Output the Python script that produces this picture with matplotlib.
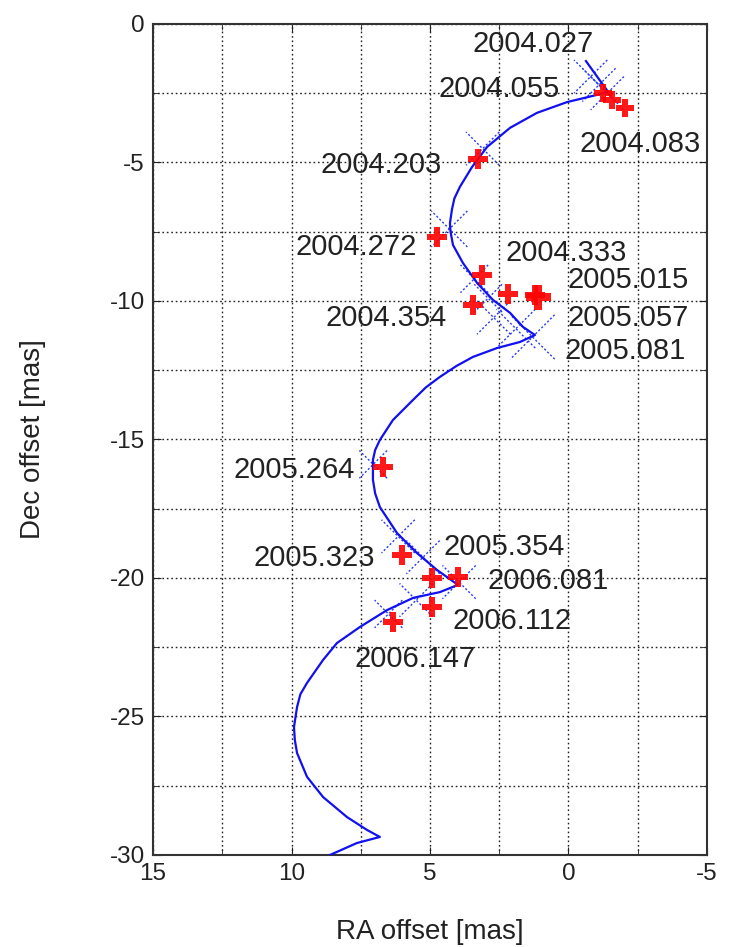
import matplotlib
matplotlib.use("Agg")
import matplotlib.pyplot as plt
from matplotlib.ticker import MultipleLocator

plt.rcParams['font.family'] = ['Liberation Sans', 'DejaVu Sans']
plt.rcParams['axes.unicode_minus'] = False

# Observed epochs and measured positions (RA offset, Dec offset) [mas]
epochs = ["2004.027", "2004.055", "2004.083", "2004.203", "2004.272", "2004.333",
          "2004.354", "2005.015", "2005.057", "2005.081", "2005.264", "2005.323",
          "2005.354", "2006.081", "2006.112", "2006.147"]
obs_ra = [-1.25, -1.57, -2.04, 3.25, 4.75, 3.12, 3.45, 2.18, 1.10, 1.20,
          6.70, 6.01, 4.93, 3.99, 4.93, 6.34]
obs_dec = [-2.49, -2.74, -3.03, -4.88, -7.69, -9.06, -10.14, -9.75, -9.86, -9.80,
           -16.0, -19.17, -20.0, -19.96, -21.05, -21.59]
obs_size = [13, 13, 13, 14, 14, 14, 14, 15, 18, 15, 14, 14, 15, 14, 15, 14]

# Model positions at each epoch with error half-size [mas]
mod_ra = [-0.8, -1.1, -1.4, 3.1, 4.3, 3.4, 2.9, 2.7, 1.9, 1.3,
          7.05, 6.15, 5.25, 3.95, 5.5, 6.5]
mod_dec = [-1.9, -2.2, -2.5, -4.5, -7.4, -9.2, -9.9, -10.6, -11.0, -11.3,
           -15.9, -18.5, -19.25, -20.15, -20.8, -21.3]
mod_err = [0.6, 0.6, 0.6, 0.6, 0.65, 0.5, 0.5, 0.6, 0.7, 0.8,
           0.5, 0.6, 0.6, 0.6, 0.6, 0.5]

# Label anchor positions (left edge, vertical centre) [mas]
lab_ra = [3.48, 4.71, -0.38, 8.97, 9.87, 2.29, 8.79, 0.05, 0.05, 0.13,
          12.11, 11.39, 4.53, 2.94, 4.17, 7.71]
lab_dec = [-0.72, -2.35, -4.33, -5.09, -8.05, -8.27, -10.61, -9.25, -10.61, -11.8,
           -16.1, -19.28, -18.88, -20.1, -21.55, -22.92]

# Fitted parallax + proper-motion track [mas]
curve_ra = [-0.63, -1.43, -1.03, 0.05, 1.14, 2.11, 2.94, 3.48, 3.92, 4.12, 4.21, 4.28, 4.26,
            4.17, 3.81, 3.30, 2.73, 2.11, 1.64, 1.21, 1.75, 2.58, 3.45, 4.05, 4.64, 5.15,
            5.61, 6.34, 6.81, 6.98, 7.06, 7.06, 6.98, 6.81, 6.19, 5.47, 4.75, 3.99, 4.64,
            5.61, 6.55, 7.53, 8.36, 8.86, 9.44, 9.68, 9.80, 9.91, 9.88, 9.80, 9.44, 8.86,
            8.00, 7.27, 6.81, 7.64, 8.61, 9.15]
curve_dec = [-1.34, -2.45, -2.56, -2.82, -3.21, -3.75, -4.44, -5.16, -5.88, -6.30, -6.71,
             -7.20, -7.50, -7.98, -8.63, -9.35, -9.96, -10.43, -10.94, -11.23, -11.48,
             -11.70, -12.02, -12.35, -12.74, -13.12, -13.57, -14.30, -15.02, -15.38,
             -15.74, -16.46, -16.95, -17.44, -18.38, -19.10, -19.71, -20.25, -20.51,
             -20.72, -21.16, -21.77, -22.35, -22.96, -23.79, -24.20, -24.66, -25.38,
             -25.85, -26.32, -27.18, -27.91, -28.63, -29.10, -29.35, -29.57, -30.0,
             -30.25]

fig = plt.figure(figsize=(7.29, 9.47), dpi=100)
ax = fig.add_axes([0.2099, 0.0972, 0.7599, 0.8775])

ax.plot(curve_ra, curve_dec, color='#1010f0', lw=1.6, zorder=3, clip_on=True,
        solid_joinstyle='round')

for cx, cy, s in zip(mod_ra, mod_dec, mod_err):
    ax.plot([cx - s, cx + s], [cy + s, cy - s], color='#2a3cf0', lw=1.0,
            ls=(0, (1.5, 1.5)), zorder=2)
    ax.plot([cx - s, cx + s], [cy - s, cy + s], color='#2a3cf0', lw=1.0,
            ls=(0, (1.5, 1.5)), zorder=2)

for x, y, ms in zip(obs_ra, obs_dec, obs_size):
    ax.plot(x, y, marker='P', color='#ff0000', markersize=ms, markeredgewidth=0,
            zorder=4, alpha=0.9)

for t, x, y in zip(epochs, lab_ra, lab_dec):
    ax.text(x, y, t, fontsize=21, ha='left', va='center', color='#222222', zorder=5)

ax.set_xlim(15, -5)
ax.set_ylim(-30, 0)
ax.xaxis.set_major_locator(MultipleLocator(5))
ax.yaxis.set_major_locator(MultipleLocator(5))
ax.xaxis.set_minor_locator(MultipleLocator(2.5))
ax.yaxis.set_minor_locator(MultipleLocator(2.5))
ax.grid(True, which='both', color='#222222', ls=(0, (1.2, 2.0)), lw=1.0)
ax.set_axisbelow(True)
ax.tick_params(which='both', direction='in', top=True, right=True, labelsize=17.5,
               colors='#222222', pad=6)
ax.tick_params(which='major', length=6)
ax.tick_params(which='minor', length=4)
for sp in ax.spines.values():
    sp.set_linewidth(1.5)
    sp.set_color('#333333')

ax.set_xlabel("RA offset [mas]", fontsize=20, color='#222222', labelpad=24)
ax.set_ylabel("Dec offset [mas]", fontsize=20, color='#222222', labelpad=46)

fig.savefig("out.png", dpi=100)
